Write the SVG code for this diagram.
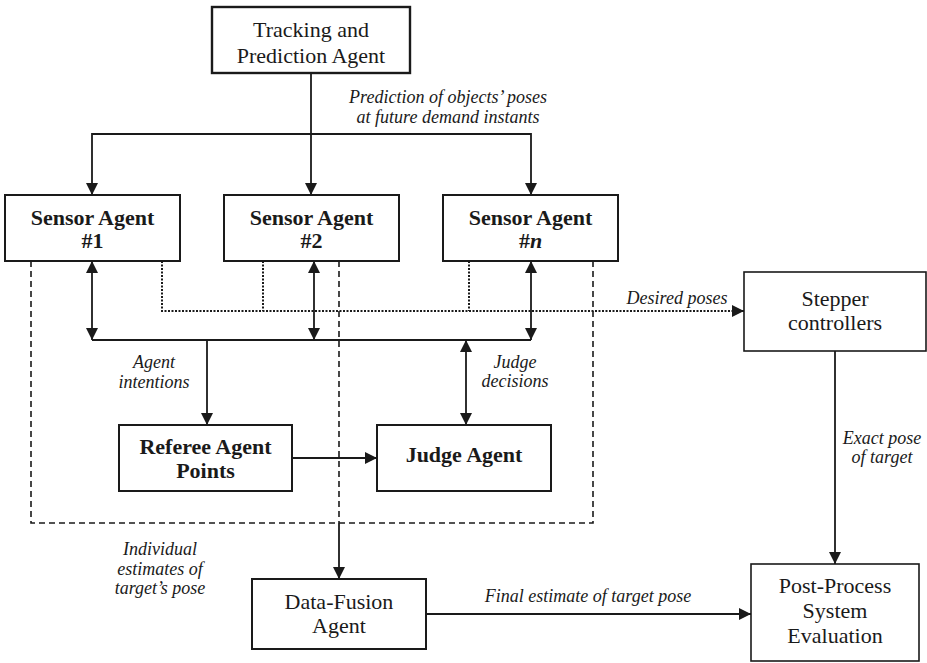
<svg xmlns="http://www.w3.org/2000/svg" width="927" height="663" viewBox="0 0 927 663">
<style>
.box{fill:#fff;stroke:#1a1a1a;stroke-width:2}
.t{font-family:"Liberation Serif","Times New Roman",serif;font-size:22px;fill:#1a1a1a;text-anchor:middle}
.b{font-weight:bold}
.i{font-family:"Liberation Serif","Times New Roman",serif;font-size:18px;font-style:italic;fill:#1a1a1a;text-anchor:middle}
.ln{fill:none;stroke:#1a1a1a;stroke-width:1.8}
.dash{fill:none;stroke:#1a1a1a;stroke-width:1.6;stroke-dasharray:6,4}
.dot{fill:none;stroke:#1a1a1a;stroke-width:2;stroke-dasharray:2,1.5}
</style>
<defs>
<marker id="ah" viewBox="0 0 12 12" refX="12" refY="6" markerWidth="12" markerHeight="12" markerUnits="userSpaceOnUse" orient="auto-start-reverse">
<path d="M0,0 L12,6 L0,12 Z" fill="#1a1a1a"/>
</marker>
</defs>
<rect width="927" height="663" fill="#fff"/>
<g id="connectors">
<!-- tracking to sensors -->
<path class="ln" d="M311,73 V195" marker-end="url(#ah)"/>
<path class="ln" d="M92,195 V134 H531 V195" marker-start="url(#ah)" marker-end="url(#ah)"/>
<!-- dashed boundary -->
<path class="dash" d="M31,261 V523 H593 V261"/>
<path class="dash" d="M339,261 V523"/>
<path class="ln" d="M339,523 V579" marker-end="url(#ah)"/>
<!-- dotted desired poses -->
<path class="dot" d="M162,261 V311 H744"/>
<path class="dot" d="M263,261 V311"/>
<path class="dot" d="M469,261 V311"/>
<path d="M732,305 L744,311 L732,317 Z" fill="#1a1a1a"/>
<!-- bus -->
<path class="ln" d="M92,340 H531"/>
<path class="ln" d="M92,261 V340" marker-start="url(#ah)" marker-end="url(#ah)"/>
<path class="ln" d="M314,261 V340" marker-start="url(#ah)" marker-end="url(#ah)"/>
<path class="ln" d="M531,261 V340" marker-start="url(#ah)" marker-end="url(#ah)"/>
<path class="ln" d="M207,340 V425" marker-end="url(#ah)"/>
<path class="ln" d="M466,340 V425" marker-start="url(#ah)" marker-end="url(#ah)"/>
<path class="ln" d="M292,458 H377" marker-end="url(#ah)"/>
<!-- stepper to post -->
<path class="ln" d="M835,351 V564" marker-end="url(#ah)"/>
<path class="ln" d="M426,614 H751" marker-end="url(#ah)"/>
<!-- labels -->
<text class="i"><tspan x="448" y="103">Prediction of objects’ poses</tspan><tspan x="448" y="123">at future demand instants</tspan></text>
<text class="i"><tspan x="154" y="368">Agent</tspan><tspan x="154" y="388">intentions</tspan></text>
<text class="i"><tspan x="515" y="368">Judge</tspan><tspan x="515" y="387">decisions</tspan></text>
<text class="i" x="677" y="304">Desired poses</text>
<text class="i"><tspan x="882" y="444">Exact pose</tspan><tspan x="882" y="463">of target</tspan></text>
<text class="i"><tspan x="160" y="555">Individual</tspan><tspan x="160" y="575">estimates of</tspan><tspan x="160" y="594">target’s pose</tspan></text>
<text class="i" x="588" y="602">Final estimate of target pose</text>
</g>
<g id="tracking">
<rect class="box" x="212" y="7" width="198" height="66" style="stroke-width:2.4"/>
<text class="t"><tspan x="311" y="37">Tracking and</tspan><tspan x="311" y="63">Prediction Agent</tspan></text>
</g>
<g id="sensor1">
<rect class="box" x="5" y="195" width="175" height="66"/>
<text class="t b"><tspan x="92.5" y="225">Sensor Agent</tspan><tspan x="92.5" y="248">#1</tspan></text>
</g>
<g id="sensor2">
<rect class="box" x="224" y="195" width="175" height="66"/>
<text class="t b"><tspan x="311.5" y="225">Sensor Agent</tspan><tspan x="311.5" y="248">#2</tspan></text>
</g>
<g id="sensorn">
<rect class="box" x="443" y="195" width="175" height="66"/>
<text class="t b"><tspan x="530.5" y="225">Sensor Agent</tspan><tspan x="530.5" y="248">#<tspan font-style="italic">n</tspan></tspan></text>
</g>
<g id="referee">
<rect class="box" x="119" y="425" width="173" height="66"/>
<text class="t b"><tspan x="205.5" y="454">Referee Agent</tspan><tspan x="205.5" y="478">Points</tspan></text>
</g>
<g id="judge">
<rect class="box" x="377" y="425" width="174" height="66"/>
<text class="t b" x="464" y="462">Judge Agent</text>
</g>
<g id="datafusion">
<rect class="box" x="252" y="579" width="174" height="70"/>
<text class="t"><tspan x="339" y="609">Data-Fusion</tspan><tspan x="339" y="633">Agent</tspan></text>
</g>
<g id="stepper">
<rect class="box" x="744" y="272" width="182" height="79" style="stroke-width:1.6"/>
<text class="t"><tspan x="835" y="306">Stepper</tspan><tspan x="835" y="330">controllers</tspan></text>
</g>
<g id="postprocess">
<rect class="box" x="751" y="564" width="168" height="97" style="stroke-width:1.6"/>
<text class="t"><tspan x="835" y="593">Post-Process</tspan><tspan x="835" y="618">System</tspan><tspan x="835" y="643">Evaluation</tspan></text>
</g>
</svg>
